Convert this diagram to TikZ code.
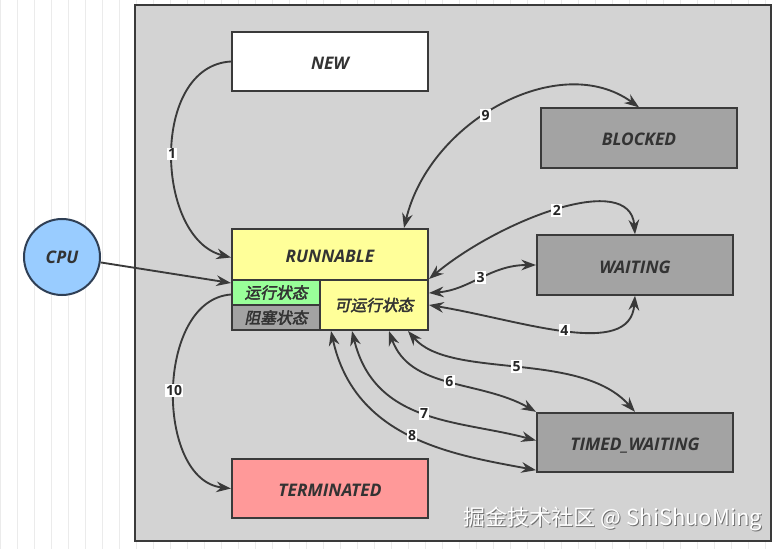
\documentclass[tikz,border=0pt]{standalone}
\usepackage{fontspec}
\setmainfont{Open Sans}
\newfontfamily\cjkb[FakeBold=2.5,FakeSlant=0.2]{Noto Sans CJK SC}
\newfontfamily\cjkr{Noto Sans CJK SC}
\usetikzlibrary{arrows.meta,calc}
\definecolor{edgec}{HTML}{3A3A3A}
\definecolor{txtc}{HTML}{333333}
\definecolor{panelc}{HTML}{D3D3D3}
\definecolor{grayc}{HTML}{A3A3A3}
\definecolor{yelc}{HTML}{FFFF99}
\definecolor{grnc}{HTML}{99FF99}
\definecolor{pinkc}{HTML}{FF9999}
\definecolor{cpuc}{HTML}{99CCFF}
\definecolor{cpue}{HTML}{2F3F55}
\definecolor{gridc}{HTML}{EBEBEB}
\begin{document}
\begin{tikzpicture}[x=0.75pt,y=-0.75pt,
  state/.style={draw=edgec, line width=1.5pt, minimum width=147pt, minimum height=44.5pt,
    inner sep=0pt, text height=12pt, text depth=0pt, text=txtc, font=\bfseries\itshape\fontsize{13}{15}\selectfont},
  sub/.style={draw=edgec, line width=1.5pt, inner sep=0pt, text=txtc,
    font=\cjkb\fontsize{11.8}{13}\selectfont},
  conn/.style={draw=edgec, line width=1.4pt},
  tip/.style={-{Stealth[length=11pt,width=8pt]}},
  dtip/.style={{Stealth[length=11pt,width=8pt]}-{Stealth[length=11pt,width=8pt]}},
  lbl/.style={fill=white, inner sep=1pt, text=black!85, font=\bfseries\fontsize{10.5}{11}\selectfont}
]
\useasboundingbox (0,0) rectangle (781,549);
\fill[white] (0,0) rectangle (781,549);
\draw[gridc, line width=0.6pt, shift={(0,8)}, step=17] (0,-17) grid (781,544);
\draw[fill=panelc, draw=edgec, line width=1.5pt] (135,5) rectangle (771,541);

% states
\node[state, fill=white] (nw) at (330,61.5) {NEW};
\node[state, fill=grayc] (bl) at (639,138) {BLOCKED};
\node[state, fill=grayc] (wt) at (635,265) {WAITING};
\node[state, fill=grayc] (tw) at (635,442.5) {TIMED\_WAITING};
\node[state, fill=pinkc] (tm) at (330,488.5) {TERMINATED};
\node[state, fill=yelc, minimum height=38.25pt] (rt) at (330,254.5) {RUNNABLE};
\node[sub, fill=grnc, minimum width=66pt, minimum height=18.75pt] (rg) at (276,292.5) {运行状态};
\node[sub, fill=grayc, minimum width=66pt, minimum height=18.75pt] (rb) at (276,317.5) {阻塞状态};
\node[sub, fill=yelc, minimum width=81pt, minimum height=37.5pt] (ry) at (374,305) {可运行状态};
\node[circle, draw=cpue, line width=1.5pt, fill=cpuc, minimum size=57pt, inner sep=0pt,
  text=txtc, font=\bfseries\itshape\fontsize{13}{15}\selectfont] (cpu) at (62,257) {CPU};

% connectors
\draw[conn, tip] (nw.west) .. controls (150,66) and (155,238) .. node[lbl, pos=0.5] {1} ([shift={(0,3)}]rt.west);
\draw[conn, tip] (cpu.-8) -- ([shift={(0,2)}]rt.south west);
\draw[conn, dtip] ([shift={(74,0)}]rt.north) .. controls (430,120) and (560,50) .. node[lbl, pos=0.44] {9} (bl.north);
\draw[conn, dtip] ([shift={(0,-2)}]rt.south east) .. controls (500,220) and (630,170) .. node[lbl, pos=0.5] {2} (wt.north);
\draw[conn, dtip] ([shift={(0,-12)}]ry.east) .. controls (470,290) and (490,265) .. node[lbl, pos=0.5] {3} (wt.west);
\draw[conn, dtip] (ry.east) .. controls (520,320) and (630,360) .. node[lbl, pos=0.5] {4} (wt.south);
\draw[conn, dtip] ([shift={(34,0)}]ry.south) .. controls (450,380) and (580,350) .. node[lbl, pos=0.5] {5} (tw.north);
\draw[conn, dtip] ([shift={(15,0)}]ry.south) .. controls (410,390) and (480,380) .. node[lbl, pos=0.5] {6} (tw.north west);
\draw[conn, dtip] ([shift={(-22,0)}]ry.south) .. controls (375,425) and (460,420) .. node[lbl, pos=0.5] {7} ([shift={(0,-2)}]tw.west);
\draw[conn, dtip] ([shift={(12,0)}]ry.south west) .. controls (355,440) and (455,455) .. node[lbl, pos=0.5] {8} ([shift={(0,-3)}]tw.south west);
\draw[conn, tip] ([shift={(0,2)}]rg.west) .. controls (155,300) and (155,480) .. node[lbl, pos=0.5] {10} (tm.west);

% watermark
\node[text=black!55, font=\cjkr\fontsize{16.5}{17}\selectfont] (wms) at (614,520) {掘金技术社区 @ ShiShuoMing};
\node[text=white, font=\cjkr\fontsize{16.5}{17}\selectfont] (wm) at (613,519) {掘金技术社区 @ ShiShuoMing};
\end{tikzpicture}
\end{document}
